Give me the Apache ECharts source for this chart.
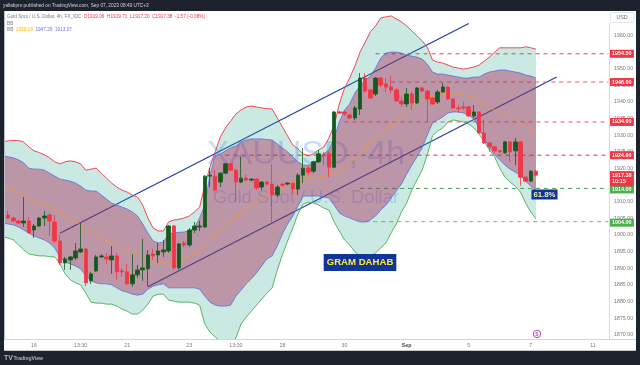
<!DOCTYPE html>
<html><head><meta charset="utf-8">
<style>html,body{margin:0;padding:0;background:#fff}#c{width:640px;height:365px}</style>
<script src="https://cdn.jsdelivr.net/npm/echarts@6/dist/echarts.min.js"></script>
</head><body><div id="c"></div>
<script>
const outerUpper=[1928.1,1928.3,1928.4,1928.4,1928.0,1926.5,1925.3,1924.8,1924.1,1923.2,1922.0,1921.4,1922.0,1922.3,1922.0,1921.4,1919.5,1919.8,1920.1,1918.6,1917.1,1915.6,1914.4,1913.5,1912.9,1912.0,1911.4,1909.0,1905.1,1902.1,1901.2,1901.2,1903.9,1904.5,1904.7,1905.1,1905.7,1906.9,1908.4,1915.0,1920.4,1925.0,1929.5,1932.2,1934.3,1936.4,1937.6,1938.5,1938.8,1938.5,1938.2,1938.0,1937.9,1935.2,1932.5,1929.8,1927.1,1925.9,1924.4,1923.8,1924.4,1925.6,1926.5,1929.2,1933.1,1939.4,1944.2,1947.2,1950.8,1955.0,1958.0,1961.1,1962.9,1965.3,1965.6,1965.9,1965.0,1964.1,1962.9,1961.4,1959.9,1958.4,1956.5,1952.6,1952.0,1951.7,1951.1,1950.5,1950.2,1949.9,1950.2,1950.5,1951.1,1952.3,1953.5,1955.0,1956.3,1956.3,1956.3,1956.3,1956.3,1956.6,1956.3,1955.9];
const innerUpper=[1923.8,1923.5,1923.2,1922.6,1921.7,1920.1,1919.8,1919.8,1919.5,1918.6,1917.7,1916.8,1916.5,1916.2,1915.6,1914.7,1913.5,1913.2,1913.2,1912.0,1910.8,1909.6,1909.0,1908.4,1907.8,1906.9,1905.7,1903.3,1900.6,1898.2,1897.6,1897.9,1900.3,1900.6,1900.8,1900.9,1901.2,1902.1,1905.1,1909.0,1918.0,1923.8,1924.4,1925.3,1926.2,1926.8,1928.0,1928.6,1928.9,1928.9,1928.9,1928.7,1928.6,1927.4,1926.2,1925.0,1923.5,1922.0,1921.0,1921.0,1921.7,1922.9,1924.4,1925.6,1929.2,1934.0,1937.6,1939.4,1942.7,1944.8,1946.6,1947.8,1950.2,1953.2,1954.7,1955.0,1955.0,1954.7,1954.1,1953.8,1953.5,1952.9,1951.4,1949.0,1948.4,1948.4,1948.1,1947.8,1947.5,1947.2,1947.2,1947.5,1947.5,1948.4,1949.0,1949.3,1949.6,1949.6,1949.3,1949.0,1948.7,1948.1,1947.8,1947.2];
const innerLower=[1903.6,1903.3,1903.0,1902.4,1901.5,1900.6,1899.7,1899.1,1898.5,1897.6,1896.1,1893.4,1891.9,1891.3,1890.7,1889.8,1887.7,1886.2,1885.6,1885.3,1885.3,1885.0,1884.1,1883.2,1882.8,1882.2,1881.9,1882.2,1883.7,1884.6,1885.0,1885.3,1884.1,1884.1,1884.1,1884.1,1884.1,1884.1,1883.7,1881.6,1879.8,1878.9,1878.6,1878.6,1878.9,1881.6,1883.4,1885.3,1886.8,1888.6,1890.7,1892.8,1893.7,1896.7,1900.3,1903.3,1905.7,1908.7,1911.7,1911.7,1911.7,1911.7,1911.4,1911.1,1909.0,1906.6,1905.7,1905.1,1904.5,1903.9,1903.9,1904.5,1905.7,1907.5,1909.0,1911.1,1913.2,1915.3,1918.3,1921.0,1923.5,1926.2,1930.1,1933.7,1934.6,1935.5,1936.7,1937.0,1937.0,1936.7,1936.1,1934.9,1932.2,1928.9,1926.5,1924.1,1922.6,1921.0,1919.8,1918.9,1918.0,1916.2,1914.7,1913.5];
const outerLower=[1899.4,1899.1,1898.5,1897.0,1895.5,1894.3,1894.0,1893.7,1893.7,1893.5,1893.4,1891.3,1888.3,1886.5,1885.6,1885.0,1882.5,1879.8,1879.5,1879.5,1879.2,1879.2,1878.6,1877.7,1877.1,1876.2,1876.2,1877.4,1879.2,1881.6,1882.2,1882.2,1880.4,1880.1,1879.8,1879.8,1879.8,1879.5,1878.9,1873.2,1870.8,1869.3,1868.1,1867.2,1866.9,1869.0,1873.2,1875.3,1877.1,1878.9,1880.7,1882.5,1884.0,1889.4,1894.0,1898.2,1902.1,1906.3,1909.3,1909.9,1909.6,1909.0,1908.1,1907.5,1903.9,1901.2,1898.5,1897.0,1894.9,1893.7,1893.4,1893.7,1894.6,1896.1,1897.6,1900.6,1903.3,1906.9,1909.6,1913.5,1916.5,1919.5,1924.1,1929.8,1931.3,1932.2,1934.0,1934.6,1934.3,1934.0,1933.4,1932.2,1930.4,1928.0,1925.6,1923.5,1920.1,1917.4,1915.9,1914.7,1912.9,1909.6,1906.9,1904.8];
const basisLine=[1914.4,1914.1,1913.5,1912.9,1912.0,1910.8,1909.9,1909.6,1909.0,1908.4,1907.8,1906.9,1905.7,1904.8,1903.9,1903.0,1901.8,1900.9,1900.0,1899.1,1898.2,1897.6,1896.7,1896.1,1895.5,1894.9,1894.3,1893.4,1892.5,1891.9,1891.6,1891.6,1891.6,1891.9,1892.5,1893.1,1893.7,1894.3,1895.5,1896.7,1898.5,1900.3,1901.8,1903.0,1904.2,1905.4,1906.9,1908.1,1909.0,1909.9,1910.8,1911.7,1912.6,1913.5,1914.4,1915.0,1915.6,1916.2,1916.8,1917.1,1917.1,1917.4,1917.7,1918.0,1918.6,1919.2,1920.4,1921.3,1923.2,1925.0,1926.2,1927.7,1929.2,1930.7,1931.9,1932.8,1934.3,1935.8,1937.3,1938.5,1940.0,1940.9,1941.5,1941.8,1942.1,1942.1,1942.4,1942.4,1942.4,1942.1,1941.8,1941.2,1940.3,1939.4,1938.5,1937.6,1937.0,1936.4,1935.5,1934.6,1933.7,1932.5,1931.6,1930.4];
const opens=[1906.3,1906.0,1905.1,1904.2,1903.6,1904.2,1901.5,1902.7,1905.1,1906.0,1903.9,1898.2,1891.6,1892.5,1893.1,1894.9,1895.8,1886.2,1889.2,1893.4,1893.4,1892.5,1893.7,1889.2,1888.9,1885.3,1888.0,1889.5,1889.8,1894.3,1894.0,1894.9,1895.2,1902.7,1890.1,1897.6,1897.0,1901.5,1902.4,1902.4,1917.7,1917.7,1915.9,1918.6,1921.4,1919.5,1915.9,1917.1,1916.5,1916.8,1914.4,1915.9,1915.3,1912.0,1915.3,1915.3,1915.6,1913.8,1918.0,1920.1,1919.2,1922.0,1924.1,1924.4,1920.4,1937.0,1937.0,1936.1,1935.2,1937.9,1947.2,1943.6,1942.4,1947.2,1945.4,1944.5,1943.6,1940.3,1939.4,1942.4,1939.7,1944.2,1943.3,1941.2,1940.0,1943.0,1944.5,1940.9,1938.2,1938.5,1938.5,1935.8,1937.0,1930.7,1927.7,1926.5,1925.3,1924.7,1928.0,1925.3,1928.0,1917.4,1916.2,1919.2];
const closes=[1906.0,1905.1,1904.2,1903.6,1904.2,1900.6,1902.7,1905.1,1905.7,1904.2,1898.2,1891.6,1892.8,1893.4,1895.2,1895.8,1885.6,1888.3,1893.4,1893.7,1892.8,1893.7,1888.9,1888.9,1885.3,1888.0,1889.5,1890.1,1894.0,1893.7,1895.2,1895.5,1902.7,1890.1,1897.3,1897.0,1901.5,1902.7,1902.7,1917.7,1918.0,1913.5,1918.6,1921.4,1919.5,1915.9,1917.1,1916.5,1916.8,1914.1,1915.9,1915.3,1912.0,1914.4,1915.0,1915.6,1913.8,1918.0,1920.1,1918.9,1922.0,1924.4,1923.8,1920.4,1937.0,1936.7,1936.4,1935.2,1938.2,1947.2,1943.3,1941.2,1947.2,1945.1,1944.5,1943.6,1940.3,1939.4,1942.4,1939.7,1944.2,1943.3,1940.9,1939.4,1943.0,1944.5,1940.9,1938.2,1938.0,1938.2,1935.8,1937.0,1930.7,1927.7,1926.5,1925.3,1925.0,1928.0,1925.0,1928.0,1917.4,1916.2,1919.2,1918.0];
const lows=[1905.5,1904.8,1903.9,1903.3,1902.4,1900.6,1899.1,1902.4,1902.7,1899.7,1897.6,1891.0,1889.5,1889.5,1892.5,1894.6,1884.6,1885.3,1888.9,1893.1,1891.3,1888.3,1886.5,1887.4,1885.0,1884.4,1887.1,1886.2,1884.6,1892.5,1891.6,1893.4,1894.6,1889.5,1889.5,1896.4,1896.4,1900.6,1901.2,1902.1,1914.4,1913.2,1914.4,1918.3,1919.2,1909.9,1915.6,1916.2,1916.2,1913.5,1913.5,1914.7,1903.9,1911.4,1914.4,1915.0,1912.6,1912.0,1915.6,1918.0,1918.6,1921.7,1921.0,1917.4,1920.1,1936.4,1935.8,1934.9,1934.6,1936.1,1942.7,1940.9,1941.8,1944.5,1943.0,1942.7,1940.0,1938.5,1938.5,1937.6,1939.4,1943.0,1934.0,1939.1,1939.4,1942.7,1940.6,1937.9,1936.7,1937.6,1935.5,1935.2,1930.4,1927.4,1925.0,1924.7,1924.7,1924.4,1922.0,1921.0,1914.7,1915.9,1915.9,1917.7];
const highs=[1907.0,1907.2,1905.4,1904.5,1911.4,1905.4,1903.3,1905.4,1907.2,1906.6,1906.0,1900.0,1893.4,1893.7,1897.6,1903.6,1896.1,1888.9,1894.0,1894.3,1894.6,1896.7,1894.6,1890.1,1891.3,1894.3,1891.0,1898.8,1895.5,1895.8,1897.6,1898.5,1903.0,1903.0,1897.6,1898.2,1902.1,1903.9,1904.2,1918.0,1920.1,1919.5,1918.9,1921.7,1921.7,1919.8,1923.5,1918.0,1917.1,1917.1,1916.2,1916.2,1921.4,1915.0,1915.6,1915.9,1915.9,1918.6,1926.2,1920.7,1922.3,1925.6,1925.0,1925.0,1937.3,1937.3,1937.3,1936.4,1938.8,1948.7,1948.7,1943.9,1947.5,1947.5,1947.2,1947.8,1944.2,1941.5,1944.2,1943.0,1944.5,1944.5,1943.6,1941.5,1943.6,1945.7,1944.8,1941.2,1939.1,1940.0,1938.8,1939.1,1937.3,1934.6,1928.0,1926.8,1925.6,1928.3,1928.3,1929.2,1928.3,1917.7,1919.5,1919.5];
const tickIndex=[6,15,24,36,45,54,66,78,90,102,114];
const tickLabels=['16','13:30','21','23','13:00','28','30','Sep','5','7','11'];
const priceTicks=[1870,1875,1880,1885,1890,1895,1900,1905,1910,1915,1920,1925,1930,1935,1940,1945,1950,1955,1960];
const levelValues=[1954.5,1946,1934,1924,1914,1904];
const levelStarts=[72,75,66,43,69,70];
const levelColors=['#f23645','#f7525f','#f7525f','#e03040','#43a047','#66bb6a'];
const tagColors=['#f23645','#f23645','#f23645','#f23645','#4caf50','#4caf50'];
const upperChannel=[[11,1900.5],[90,1963.6]];
const lowerChannel=[[28,1884.4],[107,1947.5]];
const lastPrice=1917.38;

const SLOTS=118;
const categories=Array.from({length:SLOTS},(_,i)=>{const k=tickIndex.indexOf(i);return k<0?'':tickLabels[k];});
const diff=(a,b)=>a.map((v,i)=>v-b[i]);
const plain={type:'line',showSymbol:false,symbol:'none',silent:true};
const fill=(name,base,top,color)=>[
 {...plain,name:name+'b',stack:name,data:base,lineStyle:{width:0,opacity:0},z:2},
 {...plain,name:name+'f',stack:name,data:diff(top,base),lineStyle:{width:0,opacity:0},areaStyle:{color,opacity:1},z:2}
];
const edge=(data,color,w)=>({...plain,data,lineStyle:{color,width:w||1},z:3});
const rowFor=(start,v)=>Array.from({length:SLOTS},(_,i)=>i>=start?v:null);
const trend=pts=>({...plain,connectNulls:true,
 data:Array.from({length:SLOTS},(_,i)=>{const p=pts.find(q=>q[0]===i);return p?p[1]:null;}),
 lineStyle:{color:'#1a3fa8',width:1.2},z:1});
const levels=levelValues.map((v,k)=>({...plain,data:rowFor(levelStarts[k],v),
 lineStyle:{color:levelColors[k],width:1,type:[4,4]},z:1,
 endLabel:{show:true,formatter:()=>v.toFixed(2),color:'#fff',fontSize:5.4,fontWeight:'bold',fontFamily:'Liberation Sans',
  backgroundColor:tagColors[k],padding:[1.5,2.5],distance:1,offset:[0,k>=4?1:0]}}));
const lastTag={...plain,data:rowFor(103,lastPrice),lineStyle:{width:0,opacity:0},z:5,
 endLabel:{show:true,formatter:()=>lastPrice.toFixed(2)+'\n10:15',color:'#fff',fontSize:5.4,lineHeight:6.6,fontWeight:'bold',fontFamily:'Liberation Sans',
  backgroundColor:'#f23645',padding:[1,2.5],distance:1,offset:[0,1.5]}};

const F='"Liberation Sans"';
const txt=(x,y,text,extra)=>({type:'text',x,y,z:100,silent:true,style:{text,fontFamily:F,fontSize:5,fill:'#787b86',verticalAlign:'middle',...extra}});
const rect=(x,y,w,h,c,z)=>({type:'rect',z:z||90,silent:true,shape:{x,y,width:w,height:h},style:{fill:c}});
const graphic=[
 {type:'text',x:306,y:155,z:0,silent:true,style:{text:'XAUUSD, 4h',fontFamily:F,fontSize:34,fill:'rgba(41,98,255,0.24)',align:'center',verticalAlign:'middle'}},
 {type:'text',x:306,y:198,z:0,silent:true,style:{text:'Gold Spot / U.S. Dollar',fontFamily:F,fontSize:18.4,fill:'rgba(41,98,255,0.24)',align:'center',verticalAlign:'middle'}},
 rect(0,0,640,11,'#1e222d'),rect(0,0,4,365,'#1e222d'),rect(636,0,4,365,'#1e222d'),rect(0,351,640,14,'#1e222d'),
 rect(4,339,632,1,'#d1d4dc',91),rect(609,23,1,316,'#d9d9d9',91),rect(4,350,632,1,'#c8c8c8',91),rect(4,11,1,328,'#b8bcc8',91),
 {type:'rect',z:91,silent:true,shape:{x:610.5,y:12.5,width:23.5,height:10,r:1},style:{fill:'#fff',stroke:'#e0e3eb',lineWidth:1}},
 txt(622,17.8,'USD',{align:'center',fontSize:5.3,fill:'#6a6d78'}),
 txt(3,5.7,'yallabpro published on TradingView.com, Sep 07, 2023 08:49 UTC+3',{fontSize:4.75,fill:'#d1d4dc'}),
 {type:'text',x:7,y:16.5,z:100,silent:true,style:{fontFamily:F,fontSize:4.7,verticalAlign:'middle',
   text:'{a|Gold Spot / U.S. Dollar, 4h, FX_IDC  }{b|O1919.06  H1919.71  L1917.20  C1917.38  -1.57 (-0.08%)}',
   rich:{a:{fontSize:4.7,fontFamily:F,fill:'#787b86'},b:{fontSize:4.7,fontFamily:F,fill:'#f23645'}}}},
 txt(7,23.5,'BB',{fontSize:4.7}),
 {type:'text',x:7,y:30,z:100,silent:true,style:{fontFamily:F,fontSize:4.7,verticalAlign:'middle',
   text:'{a|BB  }{o|1930.18}{a|  }{b|1947.29  1913.07}',
   rich:{a:{fontSize:4.7,fontFamily:F,fill:'#787b86'},o:{fontSize:4.7,fontFamily:F,fill:'#ffb300'},b:{fontSize:4.7,fontFamily:F,fill:'#6f74f0'}}}},
 {type:'text',x:360,y:262.5,z:100,silent:true,style:{text:'GRAM DAHAB',fontFamily:F,fontSize:9.6,fontWeight:'bold',fill:'#ffeb3b',align:'center',verticalAlign:'middle',backgroundColor:'#0f3598',padding:[3.5,3]}},
 {type:'text',x:544.5,y:194.5,z:100,silent:true,style:{text:'61.8%',fontFamily:F,fontSize:7.8,fontWeight:'bold',fill:'#f4f3b0',align:'center',verticalAlign:'middle',backgroundColor:'#0f3598',padding:[1,2]}},
 {type:'circle',z:100,silent:true,shape:{cx:537,cy:334,r:3.7},style:{fill:'#fff',stroke:'#ab47bc',lineWidth:1}},
 txt(537,334.2,'S',{fontSize:5,align:'center',fill:'#ab47bc',fontWeight:'bold'}),
 txt(4,358.3,'TV',{fontSize:7,fontWeight:'bold',fill:'#b2b5be'}),
 txt(13.5,358.3,'TradingView',{fontSize:5,fill:'#b2b5be',fontWeight:'bold'})
];

const chart=echarts.init(document.getElementById('c'),null,{renderer:'canvas'});
chart.setOption({
 animation:false,backgroundColor:'#fff',
 grid:{left:-0.18,top:11,width:611.2,height:328.3},
 xAxis:{type:'category',data:categories,boundaryGap:true,axisLine:{show:false},axisTick:{show:false},splitLine:{show:false},
  axisLabel:{show:true,interval:0,margin:3.5,fontSize:5.3,fontFamily:F,color:'#787b86',hideOverlap:false,
   formatter:v=>v==='Sep'?'{s|Sep}':v,rich:{s:{fontSize:5.3,fontFamily:F,fontWeight:'bold',color:'#434651'}}}},
 yAxis:{type:'value',position:'right',offset:-2,min:1868.62,max:1967.37,axisLine:{show:false},axisTick:{show:false},splitLine:{show:false},
  axisLabel:{show:true,customValues:priceTicks,margin:5,fontSize:5.3,fontFamily:F,color:'#787b86',formatter:v=>v.toFixed(2)}},
 series:[
  trend(upperChannel),trend(lowerChannel),...levels,
  ...fill('outer',outerLower,outerUpper,'rgba(38,166,140,0.25)'),
  ...fill('inner',innerLower,innerUpper,'rgba(170,22,81,0.4)'),
  edge(outerUpper,'#f23645',0.9),edge(outerLower,'#4caf50',0.9),edge(innerUpper,'#5c6fe0',0.8),edge(innerLower,'#5c6fe0',0.8),edge(basisLine,'#f09a30',0.8),
  {type:'candlestick',silent:true,z:4,barWidth:4,
   data:opens.map((o,i)=>[o,closes[i],lows[i],highs[i]]),
   itemStyle:{color:'#145a1e',color0:'#f23645',borderColor:'#145a1e',borderColor0:'#f23645',borderWidth:0.8}},
  lastTag
 ],
 graphic
});
</script></body></html>
